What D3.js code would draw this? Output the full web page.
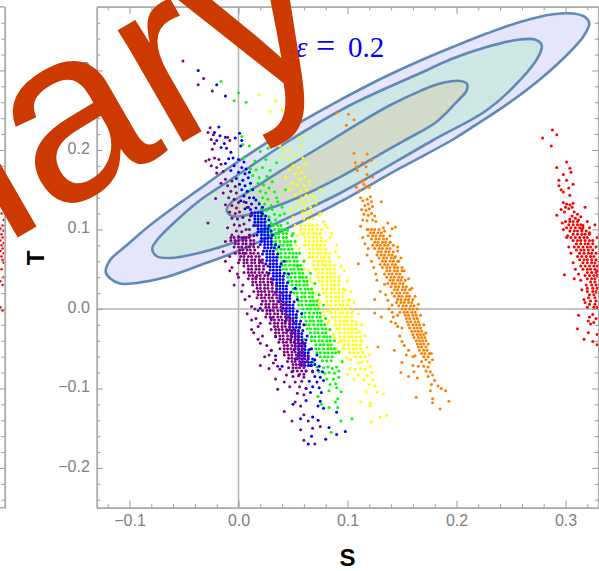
<!DOCTYPE html>
<html>
<head>
<meta charset="utf-8">
<script src="https://cdnjs.cloudflare.com/ajax/libs/d3/7.8.5/d3.min.js"></script>
<style>
  html, body { margin: 0; padding: 0; background: #fff; }
  svg { display: block; }
</style>
</head>
<body>
<div id="chart"></div>
<script>
var xMajor = [-0.1, 0, 0.1, 0.2, 0.3];
var yMajor = [-0.2, -0.1, 0, 0.1, 0.2, 0.3];
var xMinor = [-0.12,-0.08,-0.06,-0.04,-0.02,0.02,0.04,0.06,0.08,0.12,0.14,0.16,0.18,0.22,0.24,0.26,0.28,0.32];
var yMinor = [-0.24,-0.22,-0.18,-0.16,-0.14,-0.12,-0.08,-0.06,-0.04,-0.02,0.02,0.04,0.06,0.08,0.12,0.14,0.16,0.18,0.22,0.24,0.26,0.28,0.32,0.34,0.36];

// confidence contours, outermost first
var outerContour = [[-.1218,.0465],[-.1179,.0613],[-.1026,.0801],[-.0812,.1053],[-.0567,.1304],[-.0353,.1514],[-.0078,.1786],[.0427,.2235],[.0901,.2604],[.1298,.2889],[.1665,.3122],[.1968,.3296],[.2277,.3464],[.2583,.3610],[.2885,.3707],[.3069,.3716],[.3179,.3673],[.3218,.3590],[.3161,.3421],[.2980,.3150],[.2736,.2855],[.2429,.2541],[.2124,.2269],[.1956,.2122],[.1482,.1770],[.0931,.1346],[.0564,.1091],[.0014,.0738],[-.0353,.0550],[-.0659,.0403],[-.0934,.0327],[-.1087,.0319],[-.1179,.0386]];
var middleContour = [[-.0791,.0760],[-.0736,.0886],[-.0567,.1116],[-.0353,.1367],[-.0078,.1619],[.0472,.2122],[.1023,.2562],[.1665,.2965],[.1971,.3154],[.2277,.3296],[.2583,.3389],[.2720,.3389],[.2782,.3317],[.2750,.3170],[.2583,.2877],[.2277,.2500],[.1784,.2122],[.0931,.1455],[.0408,.1116],[.0014,.0864],[-.0383,.0697],[-.0613,.0642],[-.0750,.0663]];
var innerContour = [[-.0108,.1242],[-.0062,.1346],[.0014,.1409],[.0472,.1808],[.0775,.2059],[.1087,.2323],[.1390,.2562],[.1665,.2740],[.1849,.2835],[.2032,.2868],[.2094,.2835],[.2094,.2751],[.2002,.2604],[.1812,.2348],[.1509,.2109],[.1206,.1872],[.0931,.1657],[.0555,.1405],[.0289,.1266],[.0014,.1166],[-.0062,.1170]];

// scattered points
var redPts = [[.288,.225],[.292,.219],[.279,.215],[.287,.205],[.292,.178],[.301,.185],[.304,.177],[.305,.172],[.298,.169],[.294,.162],[.294,.155],[.296,.150],[.301,.162],[.307,.157],[.303,.152],[.304,.143],[.298,.147],
[.298,.134],[.301,.132],[.304,.131],[.307,.133],[.300,.128],[.303,.126],[.306,.128],[.296,.125],[.299,.122],[.318,.128],[.308,.122],[.311,.119],[.306,.117],[.309,.114],[.312,.112],[.304,.113],[.314,.116],[.316,.105],[.322,.102],[.327,.106],
[.302,.092],[.329,.090],[.299,.043],[.308,.038],[.329,.048],[.312,-.008],[.322,-.010],[.325,-.007],[.328,-.012],[.321,-.015],[.323,-.019],[.326,-.017],[.311,-.025],[.321,-.030],[.329,-.032],[.317,-.038],[.325,-.041],[.329,-.045],
[.292,.118],[.297,.108],[.298,.100],[.301,.090],[.303,.078],[.305,.070],[.307,.058],[.309,.050],[.312,.044],[.314,.036],[.315,.024],[.317,.012],[.318,.008],[.320,.110],[.322,.096],[.325,.086],[.328,.078],[.315,.100]];

var leftRedPts = [[.328,.128],[.327,.120],[.329,.112],[.328,.105],[.326,.101],[.329,.098],[.327,.094],[.328,.090],[.326,.086],[.329,.083],[.327,.080],[.328,.076],[.326,.073],[.329,.070],[.327,.066],[.328,.062],[.329,.058],[.327,.050],[.329,.040],[.326,.035],[.328,.030],[.326,.002],[.328,-.002]];

var orangePts = [[.090,.247],[.101,.245],[.106,.238],[.099,.231],[.106,.196],[.118,.195],[.122,.187],[.1136,.184],[.107,.184],[.108,.179],[.109,.174],[.117,.179],[.118,.169],[.123,.166],[.113,.160],[.115,.157],[.108,.153],[.111,.149],[.120,.153],[.112,.140],[.115,.162],[.117,.154],
[.114,.136],[.118,.138],[.121,.141],[.116,.130],[.119,.132],[.123,.129],[.122,.135],[.113,.125],[.117,.124],[.120,.126],[.131,.135],[.115,.119],[.119,.118],[.122,.120],[.125,.117],[.114,.112],[.118,.111],[.123,.112],[.126,.110],[.137,.108],[.144,.103],[.119,.100],[.133,.102],[.141,.101],[.139,.084],[.119,.076],[.146,.073],[.144,.066],[.147,.060],[.110,.057],[.150,.052],[.126,.044],[.134,.031],[.125,.012],[.137,.011],[.141,.005],[.125,-.005],
[.131,-.010],[.142,-.010],[.146,-.008],[.140,-.016],[.146,-.022],[.148,-.034],[.150,-.041],[.128,-.048],[.143,-.052],[.154,-.058],[.162,-.059],[.150,-.067],[.168,-.066],[.172,-.064],[.175,-.067],[.160,-.071],[.165,-.072],[.170,-.072],[.174,-.073],[.149,-.080],[.161,-.079],[.172,-.078],[.176,-.079],[.156,-.085],[.164,-.087],[.174,-.085],[.178,-.083],[.180,-.090],[.177,-.095],[.183,-.097],[.176,-.103],[.186,-.100],[.190,-.103],[.163,-.111],[.178,-.113],[.178,-.118],[.193,-.116],[.185,-.126],
[.112,.104],[.114,.090],[.116,.082],[.118,.068],[.122,.060],[.124,.052],[.127,.036],[.130,.022],[.135,.018],[.138,.000],[.141,-.004],[.144,-.018],[.150,-.024],[.152,-.046],[.156,-.052],[.160,-.060],[.134,.098],[.139,.092],[.142,.080],[.146,.078],[.149,.064],[.152,.048],[.156,.038],[.159,.026],[.162,.016],[.165,.006],[.167,-.008],[.170,-.020],[.172,-.030],[.174,-.044],[.177,-.056],[.178,-.064]];

var yellowPts = [[.019,.269],[.034,.262],[.029,.248],[.040,.250],[.044,.226],[.056,.216],[.038,.205],[.042,.198],[.047,.200],[.052,.193],[.057,.205],[.040,.190],[.046,.188],[.059,.190],
[.050,.180],[.055,.178],[.062,.183],[.047,.175],[.052,.170],[.058,.172],[.043,.166],[.056,.163],[.061,.166],[.050,.158],[.054,.156],[.060,.155],[.065,.160],[.047,.150],[.057,.148],[.063,.150],[.052,.143],[.058,.140],[.062,.143],[.067,.142],[.055,.135],[.060,.133],[.064,.136],[.071,.133],[.053,.128],[.061,.126],[.066,.128],[.059,.121],[.063,.120],[.067,.122],[.074,.118],[.060,.113],[.064,.112],[.068,.114],[.078,.110],[.082,.102],[.054,.092],[.084,.090],[.056,.076],[.089,.072],[.060,.062],[.094,.054],[.064,.049],[.067,.034],[.071,.020],[.098,.024],[.073,.012],[.102,.012],[.074,.003],[.082,-.003],[.105,-.002],[.078,-.009],[.083,-.015],[.108,-.016],[.083,-.026],[.087,-.032],[.111,-.029],[.092,-.042],[.113,-.040],[.083,-.048],[.096,-.049],[.093,-.055],[.114,-.054],[.099,-.061],[.103,-.064],[.095,-.067],[.110,-.068],[.113,-.067],[.118,-.066],[.102,-.075],[.107,-.076],[.112,-.075],[.116,-.076],[.121,-.072],[.100,-.082],[.110,-.083],[.118,-.084],[.122,-.080],[.106,-.088],[.115,-.089],[.123,-.089],[.120,-.095],[.125,-.097],[.117,-.104],[.127,-.105],[.133,-.107],[.112,-.117],[.121,-.118],[.121,-.122],[.130,-.136],[.136,-.134],[.122,-.142],
[.075,.120],[.080,.105],[.086,.095],[.090,.080],[.092,.065],[.097,.048],[.100,.035],[.103,.022],[.106,.008],[.110,-.006],[.113,-.020],[.116,-.034],[.118,-.048],[.120,-.058],[.052,.105],[.053,.080],[.060,.050],[.066,.038],[.068,.022],[.075,.008],[.078,-.004],[.082,-.018],[.088,-.036],[.090,-.050],[.070,.140],[.075,.150],[.050,.115],[.048,.125]];

var greenPts = [[-.016,.286],[-.004,.262],[0,.272],[.007,.260],[.003,.217],[.004,.207],[.010,.205],[.020,.198],[.027,.202],[.005,.190],[.015,.186],[.025,.188],[.035,.184],
[.011,.176],[.016,.175],[.022,.178],[.029,.174],[.013,.168],[.019,.165],[.026,.167],[.031,.160],[.018,.158],[.023,.156],[.028,.152],[.011,.150],[.020,.148],[.025,.146],[.033,.147],[.022,.140],[.027,.138],[.019,.134],[.024,.132],[.030,.130],[.036,.135],[.021,.126],[.026,.124],[.031,.125],[.023,.118],[.028,.116],[.033,.119],[.042,.120],[.025,.110],[.030,.108],[.034,.112],[.045,.099],[.049,.092],[.054,.054],[.057,.040],[.067,.005],[.053,-.010],[.056,-.024],[.060,-.038],[.064,-.052],[.069,-.066],[.072,-.073],[.078,-.074],[.082,-.073],[.086,-.075],[.090,-.073],[.074,-.079],[.079,-.081],[.083,-.080],[.088,-.081],[.092,-.078],[.081,-.088],[.087,-.088],[.092,-.086],[.084,-.095],[.089,-.094],[.090,-.099],[.083,-.103],[.094,-.104],[.073,-.110],[.091,-.113],[.089,-.117],[.076,-.120],[.083,-.124],[.091,-.124],[.094,-.141],[.104,-.138],[.085,-.155],
[.038,.118],[.045,.108],[.050,.095],[.052,.085],[.056,.070],[.060,.060],[.066,.045],[.070,.032],[.074,.018],[.078,.005],[.080,-.012],[.084,-.026],[.088,-.040],[.092,-.054],[.095,-.066],[.040,.128],[.035,.140],[.043,.150],[.018,.110],[.022,.095]];

var bluePts = [[-.037,.300],[-.020,.282],[-.012,.268],[-.018,.229],[-.022,.222],[-.017,.218],[-.012,.216],[-.013,.208],[-.020,.212],[-.016,.203],[-.011,.202],[-.007,.197],[.001,.221],[-.003,.215],[.003,.212],[.002,.205],
[-.009,.189],[-.005,.190],[.000,.188],[.005,.185],[-.012,.183],[-.004,.180],[.003,.178],[.007,.176],[-.007,.174],[.000,.172],[.006,.170],[.010,.172],[-.002,.164],[.004,.162],[.009,.165],[.001,.157],[.006,.155],[.011,.158],[.003,.150],[.008,.148],[.013,.150],[.005,.142],[.010,.140],[.002,.136],[.007,.134],[.012,.132],[.016,.137],[.006,.126],[.011,.125],[.016,.127],[.020,.001],[.029,-.002],[.030,-.012],[.034,-.035],[.030,-.052],[.034,-.059],[.052,-.063],[.040,-.072],[.056,-.070],[.066,-.071],[.070,-.070],[.074,-.072],[.049,-.079],[.062,-.078],[.068,-.079],[.073,-.077],[.077,-.079],[.070,-.085],[.075,-.086],[.065,-.091],[.072,-.092],[.078,-.090],[.068,-.098],[.074,-.099],[.062,-.100],[.066,-.105],[.076,-.105],[.050,-.120],[.062,-.115],[.075,-.116],[.073,-.122],[.078,-.125],[.057,-.138],[.068,-.136],[.073,-.140],[.090,-.130],[.083,-.149],[.098,-.154],[.067,-.160],[.080,-.164],[.090,-.158],[.064,-.170],
[.022,.128],[.028,.112],[.030,.098],[.037,.078],[.042,.060],[.046,.044],[.052,.026],[.054,.012],[.058,-.006],[.060,-.020],[.063,-.034],[.067,-.050],[.072,-.058],[.070,-.064],[.014,.140],[.019,.132],[.022,.120],[.009,.128]];

var purplePts = [[-.051,.312],[-.032,.290],[-.037,.282],[-.024,.274],[-.026,.228],[-.028,.222],[-.023,.219],[-.025,.213],[-.022,.208],[-.024,.201],[-.027,.188],[-.030,.186],[-.022,.190],[-.018,.188],[-.025,.180],[-.020,.178],[-.016,.182],[-.014,.173],[-.020,.171],[-.010,.216],[-.008,.212],
[-.012,.163],[-.006,.161],[-.016,.158],[-.010,.155],[-.003,.154],[-.007,.148],[-.014,.146],[-.002,.146],[-.009,.140],[-.004,.138],[.000,.134],[-.021,.139],[-.012,.131],[-.006,.130],[-.002,.127],[-.008,.122],[-.003,.120],[.001,.122],[-.006,.114],[-.001,.113],[.004,.115],[-.028,.108],[-.004,.106],[.001,.105],[.005,.107],[-.010,.102],[-.002,.098],[.003,.097],[.007,.100],[-.006,.093],[.000,.091],[.005,.090],[.010,.093],[-.012,.060],[-.008,.048],[-.004,.030],[-.001,.044],[.000,.058],[.004,.030],[.010,.016],[.012,.003],[.015,.000],[.018,-.002],[.016,-.012],[.020,-.018],[.012,-.026],[.018,-.038],[.020,-.043],[.030,-.052],[.024,-.060],[.020,-.071],[.032,-.068],[.028,-.075],[.038,-.076],[.044,-.083],[.050,-.085],[.055,-.084],[.060,-.086],[.034,-.088],[.042,-.092],[.052,-.092],[.058,-.091],[.036,-.101],[.047,-.098],[.056,-.098],[.062,-.100],[.054,-.106],[.060,-.108],[.052,-.117],[.057,-.122],[.042,-.129],[.060,-.133],[.049,-.141],[.064,-.141],[.068,-.150],[.075,-.148],[.057,-.152],[.060,-.165],[.070,-.170],
[-.012,.085],[-.014,.072],[-.008,.066],[-.006,.052],[.000,.040],[.003,.022],[.006,.012],[.008,-.006],[.012,-.014],[.014,-.030],[.018,-.022],[.022,-.034],[.026,-.046],[.028,-.058],[.034,-.064],[.036,-.072],[.016,.040],[.006,.070],[.040,.020],[.045,.005],[.050,-.012],[.055,-.028],[.060,-.044],[.064,-.060],[.068,-.078],[.020,.060],[.010,.100],[.014,.092],[.016,.105],[.012,.118],[.008,.128],[.005,.135],[.010,.112]];

// dense cores, one row per T value: [T, S, S, ...]
var redRows = [[.110,.300,.304,.307,.311],[.106,.303,.307,.311,.314],[.102,.301,.305,.309,.313,.316],[.098,.304,.308,.311,.315,.319],[.094,.307,.311,.315,.318,.322],[.090,.305,.309,.313,.317,.320],[.086,.307,.311,.314,.318,.322],[.082,.310,.314,.318,.321,.325],[.078,.308,.312,.316,.320,.323],[.074,.310,.314,.317,.321,.325],[.070,.313,.317,.321,.324,.328],[.066,.311,.315,.319,.323,.326],[.062,.313,.317,.320,.324,.328],[.058,.316,.320,.324,.327],[.054,.314,.318,.322,.326,.329],[.050,.316,.320,.323,.327],[.046,.320,.324,.328],[.042,.318,.322,.326,.329],[.038,.320,.324,.327],[.034,.323,.327],[.030,.319,.324,.328],[.026,.320,.325,.329],[.022,.320,.325,.328],[.018,.322,.326],[.014,.321,.327],[.010,.323,.328],[.006,.322,.327],[.002,.320,.326,.329]];

var orangeRows = [[.100,.118,.122,.125,.129],[.096,.121,.124,.128,.131],[.092,.119,.123,.126,.130,.133],[.088,.122,.126,.129,.133,.136],[.084,.125,.128,.132,.135,.139],[.080,.123,.127,.130,.134,.137],[.076,.125,.129,.132,.136,.139],[.072,.128,.131,.135,.138,.142],[.068,.127,.131,.134,.138,.141],[.064,.129,.133,.136,.140,.143],[.060,.132,.135,.139,.142,.146],[.056,.130,.134,.137,.141,.144],[.052,.132,.136,.139,.143,.146],[.048,.136,.139,.143,.146,.150],[.044,.134,.138,.141,.145,.148],[.040,.136,.140,.143,.147,.150],[.036,.139,.142,.146,.149,.153],[.032,.137,.141,.144,.148,.151],[.028,.140,.144,.147,.151,.154],[.024,.143,.146,.150,.153,.157],[.020,.141,.145,.148,.152,.155],[.016,.143,.147,.150,.154,.157],[.012,.146,.149,.153,.156,.160],[.008,.145,.149,.152,.156,.159],[.004,.147,.151,.154,.158,.161],[0,.150,.153,.157,.160,.164],[-.004,.148,.152,.155,.159,.162],[-.008,.153,.156,.160,.163],[-.012,.154,.157,.161,.164],[-.016,.155,.158,.162,.165],[-.020,.156,.160,.163,.166],[-.024,.157,.161,.164,.167],[-.028,.159,.162,.165,.168],[-.032,.160,.164,.167,.170],[-.036,.161,.165,.168,.171],[-.040,.163,.166,.169,.172],[-.044,.164,.167,.170],[-.048,.165,.168,.172],[-.052,.166,.170,.173],[-.056,.168,.171,.175],[-.060,.170,.174]];

var yellowRows = [[.105,.057,.061,.065,.068,.072],[.100,.057,.061,.065,.068,.072,.076],[.095,.057,.060,.064,.068,.071,.075],[.090,.061,.065,.069,.072,.076],[.085,.061,.065,.069,.072,.076,.080],[.080,.061,.064,.068,.072,.075,.079],[.075,.065,.069,.073,.076,.080],[.070,.065,.069,.073,.076,.080,.084],[.065,.065,.068,.072,.076,.079,.083],[.060,.069,.073,.077,.080,.084],[.055,.069,.073,.077,.080,.084,.088],[.050,.070,.073,.077,.081,.084,.088],[.045,.073,.077,.081,.084,.088],[.040,.073,.077,.081,.084,.088,.092],[.035,.074,.077,.081,.085,.088,.092],[.030,.077,.081,.085,.088,.092],[.025,.077,.081,.085,.088,.092,.096],[.020,.078,.081,.085,.089,.092,.096],[.015,.081,.085,.089,.092,.096],[.010,.081,.085,.089,.092,.096,.100],[.005,.082,.085,.089,.093,.096,.100],[0,.085,.089,.093,.096,.100],[-.005,.085,.089,.093,.096,.100,.104],[-.010,.086,.089,.093,.097,.100,.104],[-.015,.089,.093,.097,.100,.104],[-.020,.089,.093,.097,.100,.104,.108],[-.025,.090,.093,.097,.101,.104,.108],[-.030,.093,.097,.101,.104,.108],[-.035,.093,.097,.101,.104,.108,.112],[-.040,.094,.097,.101,.105,.108,.112],[-.045,.097,.101,.105,.108,.112],[-.050,.097,.101,.105,.108,.112],[-.055,.102,.106,.110,.114],[-.060,.107,.112,.116]];

var greenRows = [[.105,.025,.029,.032,.036,.039],[.100,.026,.029,.033,.037,.040,.043],[.095,.027,.030,.034,.037,.041,.044],[.090,.030,.034,.037,.041,.044],[.085,.031,.034,.038,.042,.045,.048],[.080,.031,.034,.038,.041,.045,.048],[.075,.035,.039,.042,.046,.049],[.070,.036,.039,.043,.047,.050,.053],[.065,.036,.039,.043,.046,.050,.053],[.060,.040,.044,.047,.051,.054],[.055,.040,.043,.047,.051,.054,.057],[.050,.041,.044,.048,.051,.055,.058],[.045,.045,.049,.052,.056,.059],[.040,.045,.048,.052,.056,.059,.062],[.035,.046,.049,.053,.056,.060,.063],[.030,.049,.053,.056,.060,.063],[.025,.050,.053,.057,.061,.064,.067],[.020,.051,.054,.058,.061,.065,.068],[.015,.054,.058,.061,.065,.068],[.010,.055,.058,.062,.066,.069,.072],[.005,.055,.058,.062,.065,.069,.072],[0,.059,.063,.066,.070,.073],[-.005,.058,.061,.065,.069,.072,.075],[-.010,.058,.061,.065,.068,.072,.075],[-.015,.062,.066,.069,.073,.076],[-.020,.062,.065,.069,.073,.076,.079],[-.025,.063,.066,.070,.073,.077,.080],[-.030,.066,.070,.073,.077,.080],[-.035,.067,.070,.074,.078,.081,.084],[-.040,.067,.070,.074,.077,.081,.084],[-.045,.071,.075,.078,.082,.085],[-.050,.071,.074,.078,.082,.085,.088],[-.055,.072,.075,.079,.082,.086,.089],[-.060,.075,.079,.082,.086],[-.065,.077,.081,.085]];

var blueRows = [[.121,.012,.015,.018,.021],[.117,.011,.015,.018,.021,.025],[.113,.015,.018,.021,.024],[.109,.015,.018,.021,.024],[.105,.014,.018,.021,.024,.028],[.101,.018,.021,.024,.027],[.097,.018,.021,.024,.027],[.093,.017,.021,.024,.027,.031],[.089,.021,.024,.027,.030],[.085,.021,.024,.027,.030],[.081,.020,.024,.027,.030,.034],[.077,.024,.027,.030,.033],[.073,.023,.026,.029,.032],[.069,.022,.026,.029,.032,.036],[.065,.026,.029,.032,.035],[.061,.026,.029,.032,.035],[.057,.025,.029,.032,.035,.039],[.053,.029,.032,.035,.038],[.049,.029,.032,.035,.038],[.045,.028,.032,.035,.038,.042],[.041,.032,.035,.038,.041],[.037,.032,.035,.038,.041],[.033,.031,.035,.038,.041,.045],[.029,.035,.038,.041,.044],[.025,.035,.038,.041,.044],[.021,.034,.038,.041,.044,.048],[.017,.038,.041,.044,.047],[.013,.038,.041,.044,.047],[.009,.037,.041,.044,.047,.051],[.005,.041,.044,.047,.050],[.001,.041,.044,.047,.050],[-.003,.040,.044,.047,.050,.054],[-.007,.044,.047,.050,.053],[-.011,.044,.047,.050,.053],[-.015,.043,.047,.050,.053,.057],[-.019,.047,.050,.053,.056],[-.023,.047,.050,.053,.056],[-.027,.045,.049,.052,.055,.059],[-.031,.049,.052,.055,.058],[-.035,.049,.052,.055,.058],[-.039,.048,.052,.055,.058,.062],[-.043,.052,.055,.058,.061],[-.047,.052,.055,.058,.061],[-.051,.051,.055,.058,.061,.065],[-.055,.055,.058,.061,.064],[-.059,.055,.058,.061,.064],[-.063,.054,.058,.061,.064,.068],[-.067,.058,.061,.064,.067],[-.071,.058,.061,.064,.067]];

var purpleRows = [[.090,-.007,-.004,0,.003,.007,.010],[.086,-.007,-.003,0,.004,.007,.011,.014],[.082,-.003,0,.004,.007,.011,.014],[.078,-.004,0,.003,.007,.010,.014,.018],[.074,.001,.004,.008,.011,.015],[.070,-.003,.001,.004,.007,.011,.014,.018],[.066,.002,.005,.009,.012,.016,.019],[.062,.001,.005,.008,.012,.015,.019,.022],[.058,.005,.008,.012,.015,.019,.022],[.054,.005,.009,.012,.016,.019,.023,.027],[.050,.009,.012,.016,.019,.023],[.046,.005,.009,.012,.015,.019,.022,.026],[.042,.010,.013,.017,.020,.024,.027],[.038,.009,.013,.016,.020,.023,.027,.030],[.034,.013,.016,.020,.023,.027,.030],[.030,.013,.017,.020,.024,.027,.031,.035],[.026,.017,.020,.024,.027,.031],[.022,.014,.018,.021,.024,.028,.031,.035],[.018,.018,.021,.025,.028,.032,.035],[.014,.017,.021,.024,.028,.031,.035,.038],[.010,.022,.025,.029,.032,.036,.039],[.006,.021,.025,.028,.032,.035,.039,.043],[.002,.025,.028,.032,.035,.039],[-.002,.022,.026,.029,.032,.036,.039,.043],[-.006,.026,.029,.033,.036,.040,.043],[-.010,.025,.029,.032,.036,.039,.043,.046],[-.014,.030,.033,.037,.040,.044,.047],[-.018,.029,.033,.036,.040,.043,.047,.051],[-.022,.033,.036,.040,.043,.047],[-.026,.030,.034,.037,.040,.044,.047,.051],[-.030,.034,.037,.041,.044,.048,.051],[-.034,.034,.038,.041,.045,.048,.052,.055],[-.038,.038,.041,.045,.048,.052,.055],[-.042,.037,.041,.044,.048,.051,.055,.059],[-.046,.042,.045,.049,.052,.056],[-.050,.038,.042,.045,.048,.052,.055,.059],[-.054,.042,.045,.049,.052,.056,.059],[-.058,.042,.046,.049,.053,.056,.060],[-.062,.046,.049,.053,.056,.060],[-.066,.045,.049,.052,.056,.059,.063],[-.070,.050,.053,.057,.060],[-.074,.046,.050,.053,.056,.060],[-.078,.050,.054,.058,.062],[-.082,.056,.060]];

function expandRows(rows) {
  var out = [];
  rows.forEach(function(r) {
    r.slice(1).forEach(function(s) { out.push([s, r[0]]); });
  });
  return out;
}

var pointSeries = [
  {pts: redPts.concat(expandRows(redRows)), color: '#ff0000'},
  {pts: orangePts.concat(expandRows(orangeRows)), color: '#ff8000'},
  {pts: yellowPts.concat(expandRows(yellowRows)), color: '#ffff00'},
  {pts: greenPts.concat(expandRows(greenRows)), color: '#00ff00'},
  {pts: bluePts.concat(expandRows(blueRows)), color: '#0000ff'},
  {pts: purplePts.concat(expandRows(purpleRows)), color: '#800080'}
];
var contours = [
  {pts: outerContour, fill: '#e5e6fb'},
  {pts: middleContour, fill: '#cfe7e4'},
  {pts: innerContour, fill: '#d2dbc9'}
];

var frameColor = '#aaaaaa', tickColor = '#999999', labelColor = '#808080';
var W = 599, H = 571;

var svg = d3.select('#chart').append('svg').attr('width', W).attr('height', H);
var xScale = d3.scaleLinear().domain([-0.13, 0.33]).range([96.8, 598.2]);
var yScale = d3.scaleLinear().domain([-0.25, 0.38]).range([507.7, 6.85]);
var fmt = d3.format('.1f');

svg.append('clipPath').attr('id', 'plotClip').append('rect')
  .attr('x', 96.8).attr('y', 6.85).attr('width', 501.4).attr('height', 500.85);
svg.append('clipPath').attr('id', 'leftClip').append('rect')
  .attr('x', 0).attr('y', 6.85).attr('width', 4.4).attr('height', 500.85);

// zero lines
svg.append('line').attr('x1', xScale(0)).attr('x2', xScale(0))
  .attr('y1', yScale.range()[0]).attr('y2', yScale.range()[1])
  .attr('stroke', '#b3b3b3').attr('stroke-width', 1.5);
svg.append('line').attr('x1', xScale.range()[0]).attr('x2', xScale.range()[1])
  .attr('y1', yScale(0)).attr('y2', yScale(0))
  .attr('stroke', '#b3b3b3').attr('stroke-width', 1.5);

// contours
var contourLine = d3.line().x(function(d) { return xScale(d[0]); }).y(function(d) { return yScale(d[1]); })
  .curve(d3.curveCatmullRomClosed.alpha(0.5));
contours.forEach(function(c) {
  svg.append('path').attr('d', contourLine(c.pts)).attr('fill', c.fill)
    .attr('stroke', '#6089b8').attr('stroke-width', 2.6);
});

// zero line shows through the translucent regions in the original
svg.append('line').attr('x1', xScale(0)).attr('x2', xScale(0))
  .attr('y1', yScale(0.19)).attr('y2', yScale(0.06))
  .attr('stroke', '#b3b3b3').attr('stroke-width', 1.2).attr('stroke-opacity', 0.7);

// points
var plot = svg.append('g').attr('clip-path', 'url(#plotClip)');
pointSeries.forEach(function(s) {
  plot.selectAll(null).data(s.pts).enter().append('circle')
    .attr('cx', function(d) { return xScale(d[0]); })
    .attr('cy', function(d) { return yScale(d[1]); })
    .attr('r', 1.5).attr('fill', s.color);
});

// frame and ticks
var axes = svg.append('g');
function drawAxis(gen, values, size, labelled, dx, dy) {
  var g = axes.append('g').attr('transform', 'translate(' + dx + ',' + dy + ')')
    .call(gen.tickValues(values).tickSize(size).tickSizeOuter(0).tickPadding(labelled ? 7 : 0)
      .tickFormat(labelled ? fmt : ''));
  g.selectAll('.domain').attr('stroke', frameColor).attr('stroke-width', 1.5);
  g.selectAll('.tick line').attr('stroke', tickColor).attr('stroke-width', 1);
  g.selectAll('text').attr('fill', labelColor).attr('font-family', 'Liberation Sans, Arial, sans-serif')
    .attr('font-size', 16);
  return g;
}
var bottomY = yScale.range()[0], topY = yScale.range()[1], leftX = xScale.range()[0], rightX = xScale.range()[1];
drawAxis(d3.axisBottom(xScale), xMinor, -3.5, false, 0, bottomY);
drawAxis(d3.axisBottom(xScale), xMajor, -7, true, 0, bottomY).selectAll('text').attr('dy', '0.72em');
drawAxis(d3.axisTop(xScale), xMinor, -3.5, false, 0, topY);
drawAxis(d3.axisTop(xScale), xMajor, -7, false, 0, topY);
drawAxis(d3.axisLeft(yScale), yMinor, -3.5, false, leftX, 0);
drawAxis(d3.axisLeft(yScale), yMajor, -6, true, leftX, 0).selectAll('text').attr('dy', '0.2em');
drawAxis(d3.axisRight(yScale), yMinor, -3.5, false, rightX, 0);
drawAxis(d3.axisRight(yScale), yMajor, -6, false, rightX, 0);

// edge of the neighbouring panel on the left
var leftShift = -593.4;
var leftPanel = svg.append('g');
leftPanel.append('g').attr('clip-path', 'url(#leftClip)').selectAll('circle').data(leftRedPts).enter().append('circle')
  .attr('cx', function(d) { return xScale(d[0]) + leftShift; })
  .attr('cy', function(d) { return yScale(d[1]); })
  .attr('r', 1.25).attr('fill', '#ff0000');
function drawNeighbour(values, size) {
  var g = leftPanel.append('g').attr('transform', 'translate(' + (rightX + leftShift) + ',0)')
    .call(d3.axisRight(yScale).tickValues(values).tickSize(-size).tickSizeOuter(0).tickFormat(''));
  g.selectAll('.domain').attr('stroke', frameColor).attr('stroke-width', 1.5);
  g.selectAll('.tick line').attr('stroke', tickColor).attr('stroke-width', 1);
}
drawNeighbour(yMinor, 3.5);
drawNeighbour(yMajor, 5);
[bottomY, topY].forEach(function(yy) {
  leftPanel.append('line').attr('x1', 0).attr('x2', rightX + leftShift).attr('y1', yy).attr('y2', yy)
    .attr('stroke', frameColor).attr('stroke-width', 1.5);
});

// axis titles
svg.append('text').attr('x', xScale(0.1)).attr('y', 566).attr('text-anchor', 'middle')
  .attr('font-family', 'Liberation Sans, Arial, sans-serif').attr('font-weight', 'bold').attr('font-size', 24).text('S');
svg.append('text').attr('transform', 'translate(44,258) rotate(-90)').attr('text-anchor', 'middle')
  .attr('font-family', 'Liberation Sans, Arial, sans-serif').attr('font-weight', 'bold').attr('font-size', 24).text('T');

// annotation
var note = svg.append('text').attr('y', 57).attr('fill', '#0000ff')
  .attr('font-family', 'Liberation Serif, serif').attr('font-size', 29);
note.append('tspan').attr('x', 296).attr('font-style', 'italic').text('\u03b5');
note.append('tspan').attr('x', 316).attr('font-size', 34).text('=');
note.append('tspan').attr('x', 348).text('0.2');

// watermark
svg.append('text').attr('transform', 'translate(345,48.5) rotate(-30)').attr('text-anchor', 'end')
  .attr('font-family', 'Liberation Sans, Arial, sans-serif').attr('font-size', 245)
  .attr('fill', '#cc3a00').text('Preliminary');
</script>
</body>
</html>
